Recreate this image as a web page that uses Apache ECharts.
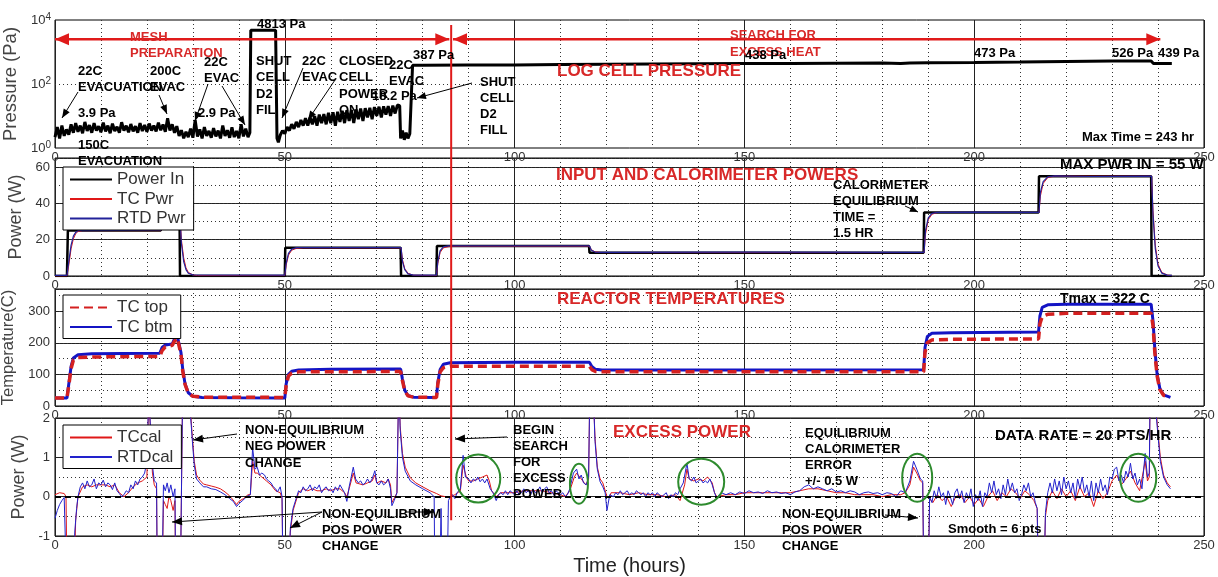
<!DOCTYPE html>
<html><head><meta charset="utf-8">
<script src="https://cdn.jsdelivr.net/npm/echarts@6/dist/echarts.min.js"></script>
<style>html,body{margin:0;padding:0;background:#fff}#c{width:1218px;height:577px}</style>
</head><body><div id="c"></div>
<script>
// ---------------- DATA ----------------
const xTickLabels = ['0','50','100','150','200','250'];
const pressureTickExps = [0, 2, 4];

// Log cell pressure (Pa) vs time (h)
const pressurePa = [[0,2.2],[0.5,4.5],[1,2.0],[1.5,5.0],[2,2.4],[2.5,3.8],[3,2.6],[3.5,5.5],[4,3.0],[4.5,6.0],[5,3.2],[5.5,5.0],[6,2.9],[6.5,6.5],[7,3.4],[7.5,5.2],[8,3.0],[8.5,6.0],[9,3.5],[9.5,4.8],[10,3.1],[10.5,6.2],[11,3.3],[11.5,5.0],[12,2.9],[12.5,5.8],[13,3.4],[13.5,4.6],[14,3.0],[14.5,6.4],[15,3.5],[15.5,5.0],[16,3.1],[16.5,5.6],[17,3.3],[17.5,4.8],[18,3.0],[18.5,6.0],[19,3.4],[19.5,5.2],[20,3.2],[20.5,5.8],[21,3.5],[21.5,5.0],[22,3.3],[22.5,6.2],[23,3.6],[23.5,5.4],[24,3.2],[24.5,8.5],[25,3.5],[25.5,5.5],[26,3.0],[26.5,4.8],[27,2.4],[27.5,3.6],[28,2.0],[28.5,3.2],[29,2.2],[29.5,4.0],[30,2.1],[30.5,7.5],[31,2.3],[31.5,3.8],[32,2.0],[32.5,4.5],[33,2.4],[33.5,3.4],[34,2.1],[34.5,4.2],[35,2.3],[35.5,3.5],[36,2.0],[36.5,5.0],[37,2.4],[37.5,3.6],[38,2.1],[38.5,4.4],[39,2.2],[39.5,3.4],[40,2.0],[40.5,5.5],[41,2.3],[41.5,4.0],[42,2.2],[42.4,3.0],[42.6,4813],[48.0,4813],[48.3,2.0],[48.6,1.5],[49,2.5],[49.5,3.5],[50,2.8],[50.5,4.5],[51,3.5],[51.5,5.5],[52,4],[52.5,6.5],[53,4.5],[53.5,7.5],[54,5],[54.5,8.5],[55,5],[55.5,9],[56,5.5],[56.5,10],[57,5],[57.5,11],[58,6],[58.5,11.5],[59,5.5],[59.5,12.5],[60,6],[60.5,13],[61,5],[61.5,13.5],[62,6.5],[62.5,14.5],[63,6],[63.5,15],[64,7],[64.5,15.5],[65,6],[65.5,16],[66,8],[66.5,17],[67,7],[67.5,17.5],[68,9],[68.5,18],[69,8],[69.5,19],[70,10],[70.5,19.5],[71,9],[71.5,20],[72,11],[72.5,20.5],[73,10],[73.5,21],[74,12],[74.5,22],[75,21],[75.2,2.0],[75.6,3.5],[76,1.8],[76.4,3.0],[76.8,2.0],[77.2,2.8],[77.6,2.5],[77.8,387],[80,387],[90,390],[100,395],[110,405],[120,415],[130,425],[140,432],[150,438],[160,440],[170,445],[180,450],[184,440],[186,455],[190,465],[200,473],[210,485],[220,505],[230,526],[238.5,526],[239,439],[243,439]];

// Input and calorimeter powers (W)
const powerIn = [[0,0],[2.6,0],[2.8,25],[23,25],[23.2,33],[27.1,33],[27.2,0],[50,0],[50.1,15.5],[75.2,15.5],[75.3,0],[83,0],[83.1,16.5],[116.2,16.5],[116.3,12.8],[189,12.8],[189.1,35],[214,35],[214.1,55],[238.5,55],[238.6,0],[243,0]];
const tcPwr = [[0,0],[2.6,0],[3,6],[3.5,15],[4,20.5],[4.5,23.3],[5,24.5],[6,25],[23,25],[23.4,29],[24,31.5],[25,32.8],[27.2,33],[27.5,20],[28,10],[28.5,4.5],[29,2],[30,0.6],[31,0.2],[50,0.2],[50.3,6],[50.8,11.5],[51.5,14.2],[52.5,15.2],[54,15.5],[75.3,15.5],[75.6,9],[76.1,4],[76.8,1.5],[78,0.4],[83,0.2],[83.3,7],[83.8,13],[84.5,15.5],[86,16.4],[116.3,16.4],[116.7,14.5],[117.5,13.3],[119,12.9],[189.1,12.9],[189.4,23],[190,31],[190.8,34],[192,35],[214.1,35],[214.4,44],[215,51],[216,54.2],[217.5,55],[238.6,55],[238.9,36],[239.4,17],[240,6.5],[240.8,2],[242,0.5],[243,0.2]];
const rtdPwr = [[0,0.3],[2.6,0.3],[3,8],[3.5,17],[4,22],[4.5,24],[5,25],[23,25.2],[23.4,30],[24,32.2],[25,33],[27.2,33],[27.5,18],[28,8],[28.5,3.5],[29,1.5],[30,0.6],[50,0.5],[50.3,7],[50.8,12.5],[51.5,14.8],[52.5,15.6],[75.3,15.6],[75.6,8],[76.1,3.5],[76.8,1.2],[78,0.5],[83,0.5],[83.3,8],[83.8,14],[84.5,16],[85.5,16.6],[116.3,16.6],[116.7,14.2],[117.5,13.2],[119,13],[150,13.1],[189.1,13],[189.4,25],[190,32],[190.8,34.5],[192,35],[200,35.2],[214.1,35],[214.4,46],[215,52],[216,54.6],[217.5,55.2],[225,54.8],[238.6,55],[238.9,34],[239.4,15],[240,5.5],[240.8,1.6],[242,0.5],[243,0.3]];

// Reactor temperatures (C)
const tcBtm = [[0,25],[2.6,25],[3,70],[3.5,125],[4,152],[5,162],[8,165],[15,166],[22.8,167],[23.3,185],[24,193],[25.5,196],[26,212],[26.6,222],[27,218],[27.4,170],[27.8,115],[28.3,70],[29,42],[30,31],[32,27],[40,26],[50,25],[50.3,70],[50.8,100],[51.5,110],[53,114],[60,116],[75.2,117],[75.6,85],[76.1,50],[76.8,33],[78,28],[83,27],[83.3,75],[83.8,115],[84.5,132],[86,137],[100,138],[116.3,138],[116.8,125],[117.6,116],[119,114],[150,114],[189,115],[189.3,185],[189.8,220],[190.8,230],[195,232],[214,234],[214.3,285],[214.8,312],[216,320],[220,322],[238.5,322],[238.9,270],[239.3,180],[239.8,100],[240.4,55],[241.2,35],[242.7,27]];
const tcTop = [[0,25],[2.6,25],[3,65],[3.5,118],[4,145],[5,153],[8,155],[15,156],[22.8,157],[23.3,175],[24,187],[25.5,192],[26,205],[26.6,215],[27,212],[27.4,165],[27.8,110],[28.3,68],[29,40],[30,31],[32,28],[40,28],[50,27],[50.3,65],[50.8,95],[51.5,104],[53,108],[75.2,109],[75.6,80],[76.1,48],[76.8,32],[78,28],[83,27],[83.3,70],[83.8,108],[84.5,121],[86,126],[116.3,126],[116.8,115],[117.6,109],[119,108],[189,108],[189.3,170],[189.8,200],[190.8,209],[195,211],[214,212],[214.3,260],[214.8,283],[216,290],[220,293],[238.5,293],[238.9,255],[239.3,170],[239.8,95],[240.4,52],[241.2,34],[242.5,28]];

// Excess power (W)
const rtdCal = [[0,-0.55],[0.5,-0.35],[1,-0.2],[1.5,-0.1],[2,-0.02],[2.4,0.0],[2.7,-3],[3.9,-3],[4.3,-0.9],[4.7,-0.3],[5,0.0],[5.5,0.25],[6,0.35],[6.5,0.2],[7,0.4],[7.5,0.25],[8,0.3],[8.5,0.45],[9,0.2],[9.5,0.35],[10,0.3],[10.5,0.42],[11,0.25],[11.5,0.35],[12,0.3],[12.5,0.18],[13,0.35],[13.5,0.15],[14,0.08],[14.5,0.0],[15,0.05],[15.5,0.15],[16,0.1],[16.5,0.3],[17,0.2],[17.5,0.4],[18,0.3],[18.5,0.45],[19,0.5],[19.5,0.6],[20,0.9],[20.4,2.6],[20.8,2.6],[21.2,0.8],[21.6,0.4],[22.1,0.35],[22.3,-3],[23.2,-3],[23.6,0.3],[24,0.15],[24.4,0.35],[24.8,0.1],[25.2,0.3],[25.7,0.0],[26.1,0.2],[26.3,-3],[27.2,-3],[27.8,3],[28.7,3],[29.4,2.2],[29.9,1.4],[30.3,0.8],[30.8,0.45],[31.5,0.35],[32.3,0.25],[33,0.25],[34,0.2],[35,0.18],[36,0.12],[37,0.05],[38,-0.05],[38.8,-0.12],[39.5,-0.25],[40,-0.18],[40.8,-0.1],[41.7,0.0],[42.5,0.05],[43,1.25],[43.5,0.7],[44,0.75],[44.5,0.55],[45,0.6],[45.6,0.55],[46,0.45],[46.5,0.4],[47,0.35],[47.5,0.25],[48,0.2],[48.4,0.12],[49,0.25],[49.4,0.0],[49.7,-3],[50.6,-3],[51.2,-0.8],[51.8,-0.3],[52.6,0.0],[53,0.15],[53.5,0.1],[54,0.25],[54.5,0.15],[55,0.2],[55.5,0.3],[56,0.15],[56.5,0.25],[57,0.2],[57.5,0.3],[58,0.1],[58.5,0.2],[59,0.25],[59.5,0.15],[60,0.2],[60.5,0.1],[61,0.25],[61.5,0.15],[62,0.3],[62.5,0.2],[63,0.1],[63.5,-0.12],[64,0.25],[64.9,0.75],[65.4,0.45],[66,0.35],[66.5,0.4],[67,0.3],[67.5,0.35],[68,0.45],[68.5,0.35],[69,0.45],[69.6,0.66],[70,0.35],[70.5,0.3],[71,0.4],[71.5,0.3],[72,0.35],[72.5,0.45],[73,0.2],[73.3,-0.23],[73.8,-0.1],[74.4,0.1],[74.8,3],[75.1,1.7],[75.6,1.0],[76.2,0.65],[77.3,0.4],[78.5,0.3],[80,0.2],[81.6,0.1],[82.5,0.0],[82.7,-3],[83.6,-3],[84.0,-0.3],[84.3,-3],[85.2,-3],[85.6,-0.1],[86,0.0],[86.5,0.05],[87,-0.05],[87.5,0.1],[88.2,0.2],[88.8,1.05],[89.3,0.5],[90,0.45],[90.5,0.35],[91,0.45],[91.5,0.4],[92,0.5],[92.5,0.38],[93,0.45],[93.5,0.35],[94,0.45],[94.7,0.2],[95.3,0.1],[96,-0.1],[96.5,0.05],[97,0.1],[97.5,0.05],[98,0.15],[98.5,0.05],[99,0.15],[99.5,0.1],[100,0.05],[100.5,0.15],[101,0.05],[101.5,0.1],[102,0.2],[102.5,0.1],[103,0.15],[103.5,0.05],[104,0.2],[104.5,0.1],[105,0.15],[105.5,0.25],[106,0.1],[106.5,0.2],[107,0.25],[107.5,0.1],[108,0.15],[108.5,0.05],[109,0.15],[110,0.05],[110.5,0.1],[111,0.0],[111.5,0.05],[112,0.2],[112.8,0.6],[113.5,0.7],[114,0.45],[114.5,0.55],[115,0.35],[115.6,0.3],[116.1,0.5],[116.4,3],[117,3],[117.5,1.4],[118,0.7],[118.6,0.38],[119.2,0.25],[119.7,0.1],[120.1,-0.35],[120.7,0.05],[121,0.1],[121.5,0.0],[122,0.1],[122.5,0.05],[123,0.15],[123.5,0.05],[124,0.1],[124.5,0.15],[125,0.05],[125.5,0.1],[126,0.05],[126.5,0.15],[127,0.1],[127.5,0.05],[128,0.1],[128.5,0.0],[129,0.1],[129.5,0.05],[130,0.1],[130.5,0.0],[131,0.1],[131.5,0.05],[132,0.0],[132.5,0.05],[133,0.1],[133.5,-0.05],[134,0.05],[134.5,0.0],[135,0.1],[135.5,0.05],[136,0.2],[136.7,0.35],[137.5,0.85],[138,0.45],[138.5,0.4],[139,0.5],[139.5,0.35],[140,0.4],[140.5,0.45],[141,0.35],[141.5,0.4],[142,0.35],[142.5,0.45],[143,0.3],[143.5,0.1],[144,-0.05],[144.5,0.05],[145,0.1],[146,0.05],[147,0.1],[148,0.05],[149,0.12],[150,0.08],[151,0.15],[152,0.1],[153,0.12],[154,0.08],[155,0.15],[156,0.1],[157,0.12],[158,0.08],[159,0.1],[160,0.05],[161,0.12],[162,0.15],[163,0.25],[164,0.3],[165,0.2],[166,0.25],[167,0.2],[168,0.15],[169,0.2],[170,0.12],[171,0.15],[172,0.1],[173,0.15],[174,0.12],[175,0.05],[176,0.1],[177,0.12],[178,0.08],[179,0.1],[180,0.05],[181,0.1],[182,0.08],[183,0.0],[184,0.15],[185,0.1],[186,0.4],[186.8,0.9],[187.5,0.7],[188.3,0.45],[188.8,0.4],[189.1,-3],[189.9,-3],[190.3,0.0],[190.8,-0.15],[191.3,0.15],[191.8,-0.05],[192.3,0.25],[192.8,0.0],[193.3,0.1],[193.8,-0.2],[194.3,0.15],[194.8,0.0],[195.3,-0.2],[195.8,0.1],[196.3,0.2],[196.8,-0.05],[197.3,0.15],[197.8,-0.15],[198.3,0.1],[198.8,-0.05],[199.3,0.2],[199.8,-0.25],[200.3,0.05],[200.8,-0.1],[201.3,0.15],[201.8,-0.25],[202.3,0.1],[202.8,0.0],[203.3,0.35],[203.8,0.1],[204.3,0.4],[204.8,0.05],[205.3,0.2],[205.8,-0.05],[206.3,0.3],[206.8,0.05],[207.3,0.45],[207.8,0.15],[208.3,0.35],[208.8,0.1],[209.3,0.2],[209.8,-0.1],[210.3,0.05],[210.8,0.3],[211.3,0.15],[211.8,0.35],[212.3,0.0],[212.8,0.1],[213.3,-0.15],[213.7,-0.3],[214.1,-3],[215,-3],[215.5,-0.4],[216,0.1],[216.5,0.35],[217,0.1],[217.5,0.45],[218,0.15],[218.5,0.4],[219,0.05],[219.5,0.5],[220,0.2],[220.5,0.4],[221,0.1],[221.5,0.35],[222,-0.05],[222.5,0.45],[223,0.2],[223.5,0.5],[224,0.1],[224.5,0.3],[225,0.0],[225.5,0.4],[226,-0.1],[226.5,0.35],[227,0.1],[227.5,0.45],[228,0.15],[228.5,0.3],[229,0.05],[229.5,0.5],[230,0.45],[230.5,0.7],[231,0.75],[231.5,0.4],[232,0.55],[232.5,0.35],[233,0.65],[233.5,0.5],[234,0.85],[234.5,0.45],[235,0.6],[235.5,0.3],[236,0.45],[236.5,0.2],[237.2,1.1],[237.7,0.5],[238.1,0.6],[238.3,3],[239,3],[239.8,1.8],[240.5,0.9],[241.2,0.5],[242,0.3],[242.7,0.2]];
const tcCal = [[0,0.05],[1,0.1],[2,0.08],[2.4,0.0],[2.7,-3],[3.9,-3],[4.5,-0.6],[5,0.0],[6,0.25],[7,0.3],[8,0.25],[9,0.3],[10,0.3],[11,0.3],[12,0.25],[13,0.3],[14,0.1],[15,0.0],[16,0.1],[17,0.25],[18,0.35],[19,0.4],[20,0.5],[20.4,2.6],[20.8,2.6],[21.2,0.6],[21.6,0.3],[22.1,0.2],[22.3,-3],[23.2,-3],[23.6,-0.1],[24,-0.2],[24.4,-0.3],[24.8,0.0],[25.2,-0.1],[25.7,-0.35],[26.1,-0.1],[26.3,-3],[27.2,-3],[27.8,3],[28.7,3],[29.4,2.3],[29.9,1.5],[30.3,0.9],[30.8,0.55],[31.5,0.42],[32.3,0.32],[33,0.3],[34,0.27],[35,0.24],[36,0.2],[37,0.12],[38,0.02],[39,-0.12],[39.5,-0.2],[40,-0.12],[41,-0.05],[42,0.05],[42.5,0.05],[43,0.9],[43.5,0.6],[44,0.6],[45,0.5],[46,0.4],[47,0.3],[48,0.15],[49,0.1],[49.4,-0.05],[49.7,-3],[50.6,-3],[51.2,-0.9],[51.8,-0.35],[52.6,-0.05],[53,0.1],[54,0.2],[55,0.15],[56,0.2],[57,0.15],[58,0.15],[59,0.2],[60,0.15],[61,0.2],[62,0.2],[63,0.1],[63.5,0.0],[64,0.2],[64.9,0.6],[65.5,0.35],[67,0.3],[68,0.35],[69,0.4],[69.6,0.55],[70,0.35],[71,0.4],[72,0.35],[72.5,0.45],[73,0.3],[73.3,-0.15],[74,0.0],[74.4,0.1],[74.8,3],[75.1,1.8],[75.6,1.1],[76.2,0.75],[77.3,0.48],[78.5,0.35],[80,0.25],[81.6,0.15],[83,0.08],[84,0.02],[85,0.0],[86,0.0],[87,0.05],[88.2,0.15],[88.8,0.8],[89.5,0.5],[90,0.4],[91,0.4],[92,0.45],[93,0.5],[94,0.55],[94.5,0.4],[95,0.15],[96,0.0],[97,0.1],[98,0.1],[100,0.1],[102,0.15],[104,0.15],[106,0.15],[108,0.1],[110,0.05],[111,0.0],[112,0.15],[113,0.5],[113.5,0.6],[114.5,0.45],[115.5,0.3],[116.1,0.45],[116.4,3],[117,3],[117.5,1.5],[118,0.75],[118.6,0.45],[119.2,0.35],[120.1,0.0],[120.7,0.0],[121,0.1],[123,0.1],[125,0.05],[127,0.1],[129,0.05],[131,0.05],[133,0.0],[135,0.05],[136,-0.1],[137,0.3],[137.5,0.7],[138,0.45],[139,0.4],[140,0.45],[141,0.4],[142,0.5],[143,0.35],[143.5,0.1],[144,0.0],[146,0.05],[148,0.05],[150,0.1],[152,0.1],[154,0.1],[156,0.1],[158,0.1],[160,0.1],[162,0.15],[164,0.2],[166,0.2],[168,0.15],[170,0.1],[172,0.1],[174,0.05],[176,0.05],[178,0.05],[180,0.0],[182,0.05],[184,0.05],[185,0.1],[186,0.3],[186.8,0.75],[187.5,0.6],[188.3,0.4],[188.8,0.35],[189.1,-3],[189.9,-3],[190.3,-0.05],[191,-0.15],[192,0.05],[193,-0.1],[194,0.0],[195,-0.25],[196,0.0],[197,0.05],[198,-0.15],[199,0.0],[200,-0.2],[201,-0.05],[202,-0.25],[203,0.0],[204,0.15],[205,-0.1],[206,0.1],[207,0.0],[208,0.2],[209,0.1],[210,-0.05],[211,0.15],[212,0.05],[213,-0.1],[213.7,-0.3],[214.1,-3],[215,-3],[215.5,-0.5],[216,-0.1],[217,0.15],[218,-0.05],[219,0.2],[220,0.0],[221,0.15],[222,-0.1],[223,0.25],[224,0.0],[225,0.1],[226,-0.25],[227,0.15],[228,-0.05],[229,0.1],[230,0.4],[231,0.55],[232,0.3],[233,0.45],[234,0.65],[235,0.35],[236,0.15],[237.2,0.9],[237.7,0.4],[238.1,0.5],[238.3,3],[239,3],[239.8,1.9],[240.5,1.0],[241.2,0.55],[242,0.35],[242.7,0.25]];

// Annotation anchors in data units (hours, value)
const searchStartHr = 86.2;
const excessCircles = [[92.1,0.46],[114.0,0.33],[140.6,0.38],[187.6,0.48],[235.7,0.48]];

// ---------------- CHART ----------------
const FONT = '"Liberation Sans", Arial, Helvetica, sans-serif';
const RED = '#d82828';
const chart = echarts.init(document.getElementById('c'), null, {renderer:'canvas'});

function grid(top, height){ return {left:55, right:14, top, height, show:true, borderColor:'#000', borderWidth:1, backgroundColor:'#fff', containLabel:false, outerBoundsMode:'none'}; }
function xAx(i, extra){
  return Object.assign({gridIndex:i, type:'value', min:0, max:250, interval:50,
    axisLine:{show:false}, axisTick:{show:false},
    axisLabel:{fontSize:13, color:'#333', margin:3, fontFamily:FONT, formatter:(v)=>xTickLabels[Math.round(v/50)]},
    splitLine:{show:true, lineStyle:{color:'#222', width:1}},
    minorTick:{show:false, splitNumber:5},
    minorSplitLine:{show:true, lineStyle:{color:'#333', width:1, type:[1,3]}}}, extra||{});
}
function yAx(i, min, max, interval, name, nameGap, nameSize, showMax){
  return {gridIndex:i, type:'value', min, max, interval, position:'left',
    name, nameLocation:'middle', nameGap, nameTextStyle:{fontSize:nameSize, color:'#444', fontFamily:FONT},
    axisLine:{show:false}, axisTick:{show:false},
    axisLabel:{fontSize:13, color:'#333', margin:5, fontFamily:FONT, showMaxLabel:!!showMax},
    splitLine:{show:true, lineStyle:{color:'#222', width:1}}};
}
function yMinor(i, min, max, interval){
  return {gridIndex:i, type:'value', min, max, interval, position:'left',
    axisLine:{show:false}, axisTick:{show:false}, axisLabel:{show:false},
    splitLine:{show:true, lineStyle:{color:'#333', width:1, type:[1,3]}}};
}
function legendBox(top, names){
  return {data:names, orient:'vertical', left:63, top, padding:[4,8,3,6], itemGap:2.5,
    itemWidth:42, itemHeight:18, backgroundColor:'#fff', borderColor:'#000', borderWidth:1, borderRadius:0,
    itemStyle:{opacity:0, borderWidth:0},
    textStyle:{fontSize:17, color:'#333', fontFamily:FONT}, selectedMode:false};
}
function line(name, xi, yi, data, color, width, type, z){
  return {name, type:'line', xAxisIndex:xi, yAxisIndex:yi, data, symbol:'none', showSymbol:false,
    lineStyle:{color, width, type: type||'solid'}, itemStyle:{color}, z: z||2, animation:false, clip:true};
}

const option = {
  animation:false,
  textStyle:{fontFamily:FONT},
  grid:[grid(20,128), grid(158,118), grid(289,117), grid(418,118)],
  xAxis:[xAx(0), xAx(1), xAx(2), xAx(3,{name:'Time (hours)', nameLocation:'middle', nameGap:20, nameTextStyle:{fontSize:20, color:'#222', fontFamily:FONT}})],
  yAxis:[
    {gridIndex:0, type:'log', logBase:10, min:1, max:10000, position:'left',
     name:'Pressure (Pa)', nameLocation:'middle', nameGap:29, nameTextStyle:{fontSize:18.5, color:'#444', fontFamily:FONT},
     axisLine:{show:false}, axisTick:{show:false}, splitLine:{show:false},
     axisLabel:{margin:4, formatter:(v)=>{const e=Math.round(Math.log10(v)); return pressureTickExps.indexOf(e)>=0 ? '{b|10}{s|'+e+'}' : '';},
       rich:{b:{fontSize:13, color:'#333', fontFamily:FONT, lineHeight:15}, s:{fontSize:10, color:'#333', fontFamily:FONT, verticalAlign:'top', lineHeight:10}}}},
    yAx(1, 0, 65, 20, 'Power (W)', 29, 18, false),
    yMinor(1, 0, 65, 10),
    yAx(2, 0, 370, 100, 'Temperature(C)', 29, 16.5, false),
    yMinor(2, 0, 370, 50),
    Object.assign(yAx(3, -1, 2, 1, 'Power (W)', 21, 18, true), {minorTick:{show:false, splitNumber:2}, minorSplitLine:{show:true, lineStyle:{color:'#333', width:1, type:[1,3]}}})
  ],
  legend:[legendBox(167, ['Power In','TC Pwr','RTD Pwr']), legendBox(295, ['TC top','TC btm']), legendBox(425, ['TCcal','RTDcal'])],
  series:[
    Object.assign(line('Pressure', 0, 0, pressurePa, '#000', 3), {markLine:{silent:true, symbol:['none','none'], label:{show:false}, lineStyle:{color:'#333', width:1, type:[1,3]}, data:[{yAxis:100}]}}),
    line('Power In', 1, 1, powerIn, '#000', 2.5),
    line('TC Pwr', 1, 1, tcPwr, '#e01818', 1),
    line('RTD Pwr', 1, 1, rtdPwr, '#22229a', 1.2),
    line('TC btm', 2, 3, tcBtm, '#1414c4', 3),
    line('TC top', 2, 3, tcTop, '#d42020', 3.5, [9,5]),
    line('TCcal', 3, 5, tcCal, '#e01818', 1),
    Object.assign(line('RTDcal', 3, 5, rtdCal, '#2222cc', 1), {markLine:{silent:true, symbol:['none','none'], label:{show:false}, lineStyle:{color:'#000', width:2, type:[6,4]}, data:[{yAxis:0}]}})
  ]
};
chart.setOption(option);

// ---------------- ANNOTATIONS ----------------
const yIdx = [0,1,3,5];
const px = (g, x, y) => chart.convertToPixel({xAxisIndex:g, yAxisIndex:yIdx[g]}, [x, y]);
const G = [];
function txt(x, yc, text, size, color, lh){
  lh = lh || 16.5;
  G.push({type:'text', x, y: yc - lh/2, z:100, silent:true,
    style:{text, fill:color||'#000', font:'bold '+(size||13)+'px '+FONT, lineHeight:lh, textAlign:'left', textVerticalAlign:'top', verticalAlign:'top'}});
}
function arrow(x1,y1,x2,y2,color,lw,hl,hw,both){
  G.push({type:'line', z:100, silent:true, shape:{x1,y1,x2,y2}, style:{stroke:color, lineWidth:lw}});
  const head = (tx,ty,fx,fy)=>{
    const dx=tx-fx, dy=ty-fy, L=Math.hypot(dx,dy)||1, ux=dx/L, uy=dy/L;
    const bx=tx-ux*hl, by=ty-uy*hl;
    G.push({type:'polygon', z:101, silent:true, shape:{points:[[tx,ty],[bx-uy*hw,by+ux*hw],[bx+uy*hw,by-ux*hw]]}, style:{fill:color}});
  };
  head(x2,y2,x1,y1);
  if (both) head(x1,y1,x2,y2);
}

// red vertical "begin search" line spanning all panels
const vTop = px(0, searchStartHr, 6950), vBot = px(3, searchStartHr, -0.6);
G.push({type:'line', z:99, silent:true, shape:{x1:vTop[0], y1:vTop[1], x2:vBot[0], y2:vBot[1]}, style:{stroke:'#e01a1a', lineWidth:2}});
// red double arrows
const a1 = px(0, 0, 2500), a2 = px(0, 85.8, 2500), a3 = px(0, 86.6, 2500), a4 = px(0, 240.5, 2500);
arrow(a1[0], a1[1], a2[0], a2[1], '#e01a1a', 2.5, 14, 6, true);
arrow(a3[0], a3[1], a4[0], a4[1], '#e01a1a', 2.5, 14, 6, true);
// green ellipses
const circleRadii = [[22,24],[9,20],[23,23],[15,24],[18,24]];
excessCircles.forEach((c,i)=>{
  const p = px(3, c[0], c[1]);
  G.push({type:'ellipse', z:100, silent:true, shape:{cx:p[0], cy:p[1], rx:circleRadii[i][0], ry:circleRadii[i][1]}, style:{stroke:'#2e8b2e', lineWidth:2, fill:null}});
});

// panel 1 texts
txt(130, 37, 'MESH\nPREPARATION', 13, RED, 16);
txt(730, 35, 'SEARCH FOR\nEXCESS HEAT', 13, RED, 17);
txt(557, 71, 'LOG CELL PRESSURE', 17, RED);
txt(78, 71, '22C\nEVACUATION', 13);
txt(150, 71, '200C\nEVAC', 13);
txt(204, 62, '22C\nEVAC', 13);
txt(78, 113, '3.9 Pa', 13);
txt(198, 113, '2.9 Pa', 13);
txt(257, 24, '4813 Pa', 13);
txt(256, 61, 'SHUT\nCELL\nD2\nFIL', 13);
txt(302, 61, '22C\nEVAC', 13);
txt(339, 61, 'CLOSED\nCELL\nPOWER\nON', 13);
txt(389, 65, '22C\nEVAC', 13);
txt(372, 96, '18.2 Pa', 13);
txt(78, 145, '150C\nEVACUATION', 13);
txt(413, 55, '387 Pa', 13);
txt(480, 82, 'SHUT\nCELL\nD2\nFILL', 13, '#000', 16);
txt(745, 55, '438 Pa', 13);
txt(974, 53, '473 Pa', 13);
txt(1112, 53, '526 Pa', 13);
txt(1158, 53, '439 Pa', 13);
txt(1082, 137, 'Max Time = 243 hr', 13);
// panel 2
txt(556, 175, 'INPUT AND CALORIMETER POWERS', 17, RED);
txt(1060, 165, 'MAX PWR IN = 55 W', 15);
txt(833, 185, 'CALORIMETER\nEQUILIBRIUM\nTIME =\n1.5 HR', 13, '#000', 16);
// panel 3
txt(557, 299, 'REACTOR TEMPERATURES', 17, RED);
txt(1060, 299, 'Tmax = 322 C', 14);
// panel 4
txt(245, 430, 'NON-EQUILIBRIUM\nNEG POWER\nCHANGE', 13);
txt(322, 514, 'NON-EQUILIBRIUM\nPOS POWER\nCHANGE', 13, '#000', 16);
txt(513, 430, 'BEGIN\nSEARCH\nFOR\nEXCESS\nPOWER', 13, '#000', 16);
txt(613, 432, 'EXCESS POWER', 17, RED);
txt(805, 433, 'EQUILIBRIUM\nCALORIMETER\nERROR\n+/- 0.5 W', 13, '#000', 16);
txt(995, 436, 'DATA RATE = 20 PTS/HR', 15);
txt(782, 514, 'NON-EQUILIBRIUM\nPOS POWER\nCHANGE', 13, '#000', 16);
txt(948, 529, 'Smooth = 6 pts', 13);

// black pointer arrows
const K = '#000';
arrow(78,92,62,118,K,1,9,3.5);
arrow(159,95,167,114,K,1,9,3.5);
arrow(208,84,195,121,K,1,9,3.5);
arrow(222,86,245,125,K,1,9,3.5);
arrow(303,68,282,118,K,1,9,3.5);
arrow(335,80,308,120,K,1,9,3.5);
arrow(472,83,417,98,K,1,9,3.5);
arrow(905,206,918,212,K,1,8,3.5);
arrow(237,434,193,440,K,1,10,4);
arrow(322,512,172,522,K,1,10,4);
arrow(322,512,290,528,K,1,10,4);
arrow(405,512,434,512,K,1,10,4);
arrow(507,437,455,439,K,1,10,4);
arrow(885,515,918,518,K,1,10,4);

chart.setOption({graphic:{elements:G}});
</script></body></html>
